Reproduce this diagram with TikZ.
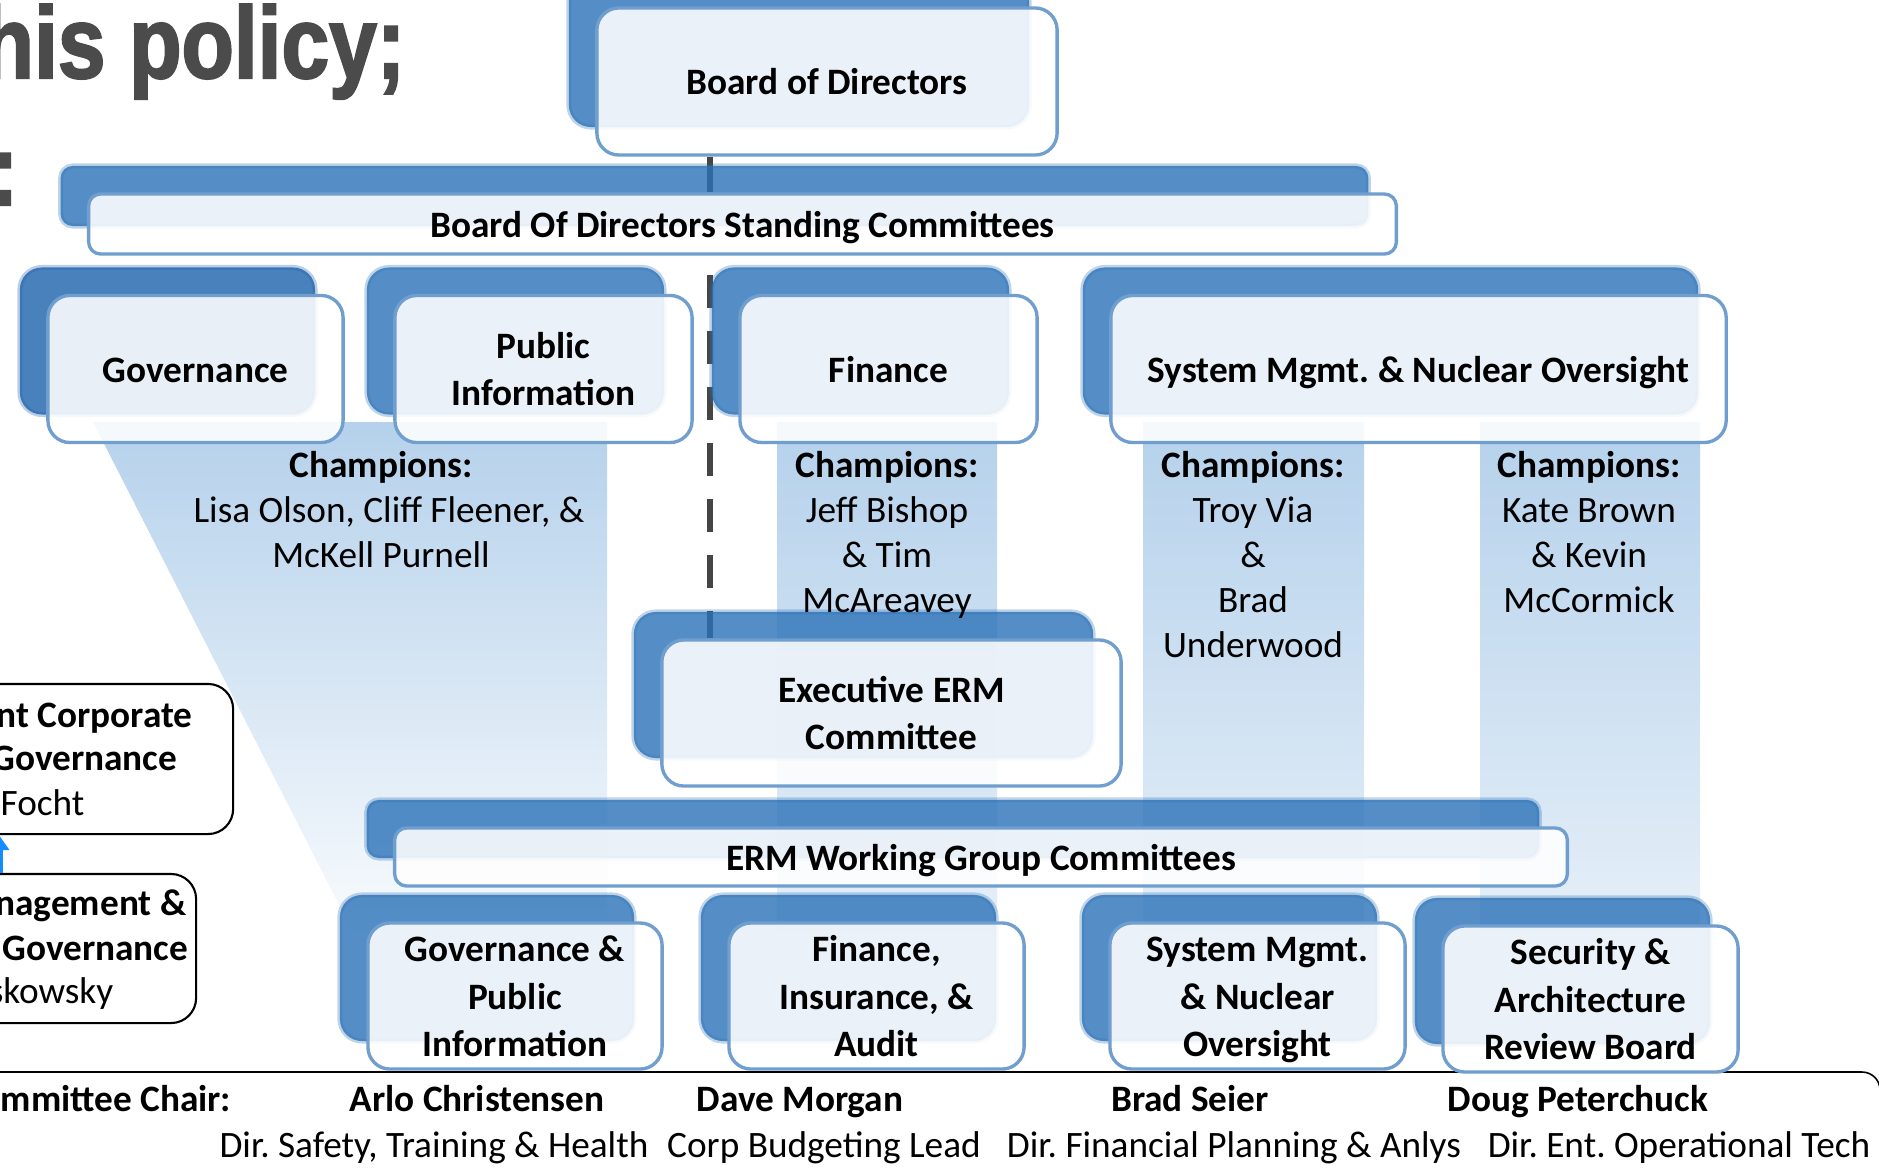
\documentclass[tikz,border=0pt]{standalone}
\usepackage{fontspec}
\setmainfont{Carlito}
\newfontfamily\titrefont[FakeStretch=0.84, FakeBold=2]{Liberation Sans Bold}
\usetikzlibrary{shadows,arrows.meta}
\definecolor{bleuombre}{RGB}{43,114,184}
\definecolor{bleuombrefonce}{RGB}{28,98,172}
\definecolor{bordbleu}{RGB}{111,158,207}
\definecolor{champbleu}{RGB}{181,209,235}
\definecolor{gristitre}{RGB}{75,75,75}
\definecolor{grislien}{RGB}{69,69,69}
\definecolor{flechebleu}{RGB}{20,140,255}
\pgfdeclarelayer{fond}
\pgfsetlayers{fond,main}
\newcommand\etai{\rule[-0.10cm]{0pt}{0.46cm}}
\frenchspacing

\begin{document}
\begin{tikzpicture}[x=0.01cm,y=-0.01cm]
\tikzset{boite/.style={draw=bordbleu, line width=0.95pt, rounded corners=0.22cm, fill=white, fill opacity=0.88, text opacity=1, align=center, inner sep=0pt, font=\fontsize{10.6}{13.5}\selectfont\bfseries, minimum height=1.47cm, general shadow={fill=#1, fill opacity=0.8, draw=#1, draw opacity=0.3, line width=0.05cm, shadow xshift=-0.28cm, shadow yshift=0.28cm}},
  boite/.default=bleuombre,
  barre/.style={boite, rounded corners=0.12cm, minimum height=0.6cm},
  champion/.style={align=center, inner sep=0pt, font=\fontsize{10.6}{12.8}\selectfont},
  legende/.style={anchor=base, inner sep=0pt, font=\fontsize{10.6}{12.8}\selectfont},
  nom/.style={legende, font=\fontsize{10.6}{12.8}\selectfont\bfseries},
  cadre/.style={draw=black, line width=0.6pt, rounded corners=0.25cm, fill=white, inner sep=0pt},
  lien/.style={draw=grislien, line width=0.06cm},
  tirets/.style={dash pattern=on 0.33cm off 0.23cm, dash phase=0.37cm},
  fleche/.style={draw=flechebleu, line width=0.07cm, -{Triangle[length=0.15cm,width=0.2cm]}}}
\useasboundingbox (0,0) rectangle (1879,1169);
\clip (0,0) rectangle (1879,1169);
\node[anchor=base west, inner sep=0pt, text=gristitre, font=\fontsize{29}{32}\selectfont\titrefont] (titre) at (-19,78) {his policy;};
\node[anchor=base west, inner sep=0pt, text=gristitre, font=\fontsize{29}{32}\selectfont\titrefont] (deuxpoints) at (-11,205) {:};
\draw[line width=0.45pt, rounded corners=0.18cm] (-20,1072) -- (1880,1072) -- (1880,1200);
\node[boite, minimum width=4.60cm] (conseil) at (827,81.5) {\etai Board of Directors};
\node[barre, minimum width=13.07cm] (comites) at (742.5,224) {\etai Board Of Directors Standing Committees};
\node[boite=bleuombrefonce, minimum width=2.95cm] (gouvernance) at (195.5,369) {\etai Governance};
\node[boite, minimum width=2.97cm] (information) at (543.5,369) {\etai Public\\\etai Information};
\node[boite, minimum width=2.97cm] (finance) at (888.5,369) {\etai Finance};
\node[boite, minimum width=6.15cm] (systeme) at (1418.5,369) {\etai System Mgmt. \& Nuclear Oversight};
\node[boite, minimum width=4.59cm, minimum height=1.46cm] (executif) at (891.5,713) {\etai Executive ERM\\\etai Committee};
\node[barre, minimum width=11.72cm, minimum height=0.58cm] (travail) at (981,857) {\etai ERM Working Group Committees};
\node[boite, minimum width=2.94cm, minimum height=1.46cm] (gouvpub) at (515,996) {\etai Governance \&\\Public\\\etai Information};
\node[boite, minimum width=2.95cm, minimum height=1.46cm] (finass) at (876.5,996) {\etai Finance,\\Insurance, \&\\\etai Audit};
\node[boite, minimum width=2.95cm, minimum height=1.46cm] (sysnuc) at (1257.5,996) {\etai System Mgmt.\\\& Nuclear\\\etai Oversight};
\node[boite, minimum width=2.95cm, minimum height=1.46cm] (securite) at (1590.5,999) {\etai Security \&\\Architecture\\\etai Review Board};
\node[champion] (champgouv) at (381,510) {\textbf{Champions:}\\\hspace*{0.16cm}Lisa Olson, Cliff Fleener, \&\\McKell Purnell};
\node[champion] (champfin) at (887,535) {\textbf{Champions:}\\Jeff Bishop\\\& Tim\\McAreavey};
\node[champion] (champsys) at (1253,555) {\textbf{Champions:}\\Troy Via\\\&\\Brad\\Underwood};
\node[champion] (champsec) at (1589,532) {\textbf{Champions:}\\Kate Brown\\\& Kevin\\McCormick};
\node[cadre, minimum width=4.68cm, minimum height=1.50cm] (gauche1) at (-1,759) {};
\node[cadre, minimum width=3.94cm, minimum height=1.49cm] (gauche2) at (-1,948.5) {};
\node[nom, anchor=base east] (g1a) at (193,727) {nt Corporate};
\node[nom, anchor=base east] (g1b) at (178,770) {Governance};
\node[legende, anchor=base west] (g1c) at (0,815) {Focht};
\node[nom, anchor=base east] (g2a) at (187,915) {nagement \&};
\node[nom, anchor=base east] (g2b) at (189,960) {Governance};
\node[legende, anchor=base east] (g2c) at (114,1003) {skowsky};
\draw[fleche] (gauche2.north) -- (gauche1.south);
\node[nom, anchor=base east] (chair) at (232,1111) {mmittee Chair:};
\node[nom] (nom1) at (477,1111) {Arlo Christensen};
\node[nom] (nom2) at (800,1111) {Dave Morgan};
\node[nom] (nom3) at (1190,1111) {Brad Seier};
\node[nom] (nom4) at (1578,1111) {Doug Peterchuck};
\node[legende] (titre1) at (434,1157) {Dir. Safety, Training \& Health};
\node[legende] (titre2) at (824,1157) {Corp Budgeting Lead};
\node[legende] (titre3) at (1234,1157) {Dir. Financial Planning \& Anlys};
\node[legende] (titre4) at (1679,1157) {Dir. Ent. Operational Tech};
\coordinate (axe) at (710,0);
\begin{pgfonlayer}{fond}
\fill[white] (0,0) rectangle (1879,1169);
\shade[top color=champbleu, bottom color=champbleu!10] (93,422) -- (607,422) -- (607,930) -- (352,930) -- cycle;
\shade[top color=champbleu, bottom color=champbleu!35] (777,422) rectangle (997,930);
\shade[top color=champbleu, bottom color=champbleu!35] (1143,422) rectangle (1364,930);
\shade[top color=champbleu, bottom color=champbleu!35] (1480,422) rectangle (1700,930);
\draw[lien] (conseil.south -| axe) -- (comites.north -| axe);
\draw[lien, tirets] (comites.south -| axe) -- (executif.north -| axe);
\end{pgfonlayer}
\end{tikzpicture}
\end{document}
